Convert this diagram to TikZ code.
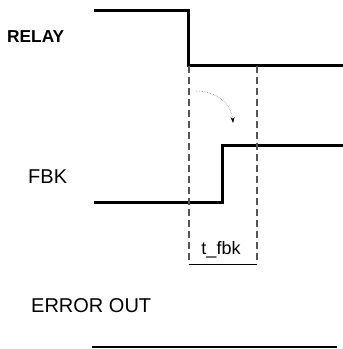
\documentclass[tikz,border=0pt]{standalone}
\usepackage{fontspec}
\setmainfont{Liberation Sans}
\usetikzlibrary{arrows.meta}
\begin{document}
\begin{tikzpicture}[x=1pt,y=-1pt,
  signal/.style={line width=3pt, line join=miter},
  guide/.style={line width=1.5pt, draw={rgb,255:red,85;green,85;blue,85}, dash pattern=on 7pt off 4pt},
  lbl/.style={inner sep=0pt, anchor=west},
  hint/.style={line width=0.6pt, draw=gray, densely dotted, -{Stealth[length=6pt,width=4pt,black]}}]
\useasboundingbox (0,0) rectangle (343,349);
% labels
\node[lbl, font=\fontsize{17.3}{17}\selectfont\bfseries] (relay) at (7,37) {RELAY};
\node[lbl, font=\fontsize{20}{20}\selectfont] (fbk) at (28,177) {FBK};
\node[lbl, font=\fontsize{20}{20}\selectfont] (err) at (31,306) {ERROR OUT};
% relay signal
\coordinate (r0) at (94,10);
\coordinate (r1) at (188,10);
\coordinate (r2) at (188,65);
\coordinate (r3) at (343,65);
\draw[signal] (r0) -- (r1) -- (r2) -- (r3);
% fbk signal
\coordinate (f0) at (94,202);
\coordinate (f1) at (222,202);
\coordinate (f2) at (222,145);
\coordinate (f3) at (343,145);
\draw[signal] (f0) -- (f1) -- (f2) -- (f3);
% error out
\coordinate (e0) at (92,347);
\coordinate (e1) at (337,347);
\draw[line width=2.8pt] (e0) -- (e1);
% guides
\coordinate (g1t) at (189,66);
\coordinate (g1b) at (189,264);
\coordinate (g2t) at (257,66);
\coordinate (g2b) at (257,264);
\draw[guide] (g1t) -- (g1b);
\draw[guide] (g2t) -- (g2b);
\draw[line width=1pt] (g1b) -- (g2b);
\node[font=\fontsize{18}{18}\selectfont, inner sep=0pt] (tf) at (221,250) {t\_fbk};
% hint arrow
\coordinate (a0) at (196,91);
\coordinate (a1) at (233,123);
\draw[hint] (a0) .. controls (218,91) and (232,106) .. (a1);
\end{tikzpicture}
\end{document}
